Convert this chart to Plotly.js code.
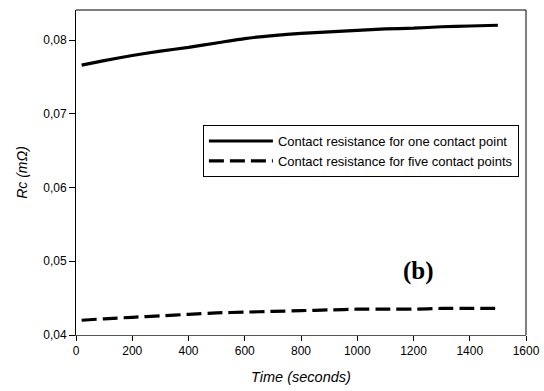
<!DOCTYPE html>
<html>
<head>
<meta charset="utf-8">
<script src="https://cdn.plot.ly/plotly-3.0.1.min.js"></script>
<style>html,body{margin:0;padding:0;background:#fff;}#chart{width:544px;height:391px;}</style>
</head>
<body>
<div id="chart"></div>
<script>
const timeSeconds = [20, 100, 200, 300, 400, 500, 600, 700, 800, 900, 1000, 1100, 1200, 1300, 1400, 1500];
const rcOnePoint = [0.0766, 0.0772, 0.0779, 0.0785, 0.0790, 0.0796, 0.0802, 0.0806, 0.0809, 0.0811, 0.0813, 0.0815, 0.0816, 0.0818, 0.0819, 0.0820];
const rcFivePoints = [0.0420, 0.0422, 0.0424, 0.0426, 0.0428, 0.0430, 0.0431, 0.0432, 0.0433, 0.0434, 0.0435, 0.0435, 0.0435, 0.0436, 0.0436, 0.0436];
const seriesNames = ["Contact resistance for one contact point", "Contact resistance for five contact points"];
const xTicks = [0, 200, 400, 600, 800, 1000, 1200, 1400, 1600];
const yTicks = [0.04, 0.05, 0.06, 0.07, 0.08];

const traces = [
  {x: timeSeconds, y: rcOnePoint, name: seriesNames[0], mode: 'lines', line: {color: '#000', width: 3.2, shape: 'spline', smoothing: 0.6}},
  {x: timeSeconds, y: rcFivePoints, name: seriesNames[1], mode: 'lines', line: {color: '#000', width: 3.2, dash: '15px,6px', shape: 'spline', smoothing: 0.6}}
];

const layout = {
  width: 544, height: 391,
  margin: {l: 76, r: 18, t: 10, b: 56},
  paper_bgcolor: '#fff', plot_bgcolor: '#fff',
  separators: ',.',
  font: {family: 'Liberation Sans, Arial, sans-serif', size: 12, color: '#000'},
  showlegend: true,
  legend: {
    x: 0.282, y: 0.646, xanchor: 'left', yanchor: 'top',
    bordercolor: '#000', borderwidth: 1, bgcolor: '#fff',
    font: {size: 13}, itemwidth: 64, tracegroupgap: 0
  },
  xaxis: {
    range: [0, 1600], tickvals: xTicks, ticks: 'outside', ticklen: 5, tickcolor: '#000',
    showline: true, linecolor: '#555', linewidth: 1, showgrid: false, zeroline: false,
    tickfont: {size: 12},
    title: {text: '<i>Time (seconds)</i>', font: {size: 14.5}, standoff: 14}
  },
  yaxis: {
    range: [0.04, 0.08407], tickvals: yTicks, tickformat: '.2f', ticks: 'outside', ticklen: 6, tickcolor: '#000',
    showline: true, linecolor: '#000', linewidth: 1, showgrid: false, zeroline: false,
    tickfont: {size: 12},
    title: {text: '<i>Rc (mΩ)</i>', font: {size: 14}, standoff: 12}
  },
  shapes: [
    {type: 'line', xref: 'paper', yref: 'paper', x0: 0, x1: 1, y0: 1, y1: 1, line: {color: '#000', width: 1}},
    {type: 'line', xref: 'paper', yref: 'paper', x0: 1, x1: 1, y0: 0, y1: 1, line: {color: '#000', width: 1}}
  ],
  annotations: [
    {x: 1216, y: 0.0487, xref: 'x', yref: 'y', text: '<b>(b)</b>', showarrow: false,
     font: {family: 'Liberation Serif, Times New Roman, serif', size: 25, color: '#000'}}
  ]
};

Plotly.newPlot('chart', traces, layout, {displayModeBar: false, staticPlot: true});
</script>
</body>
</html>
